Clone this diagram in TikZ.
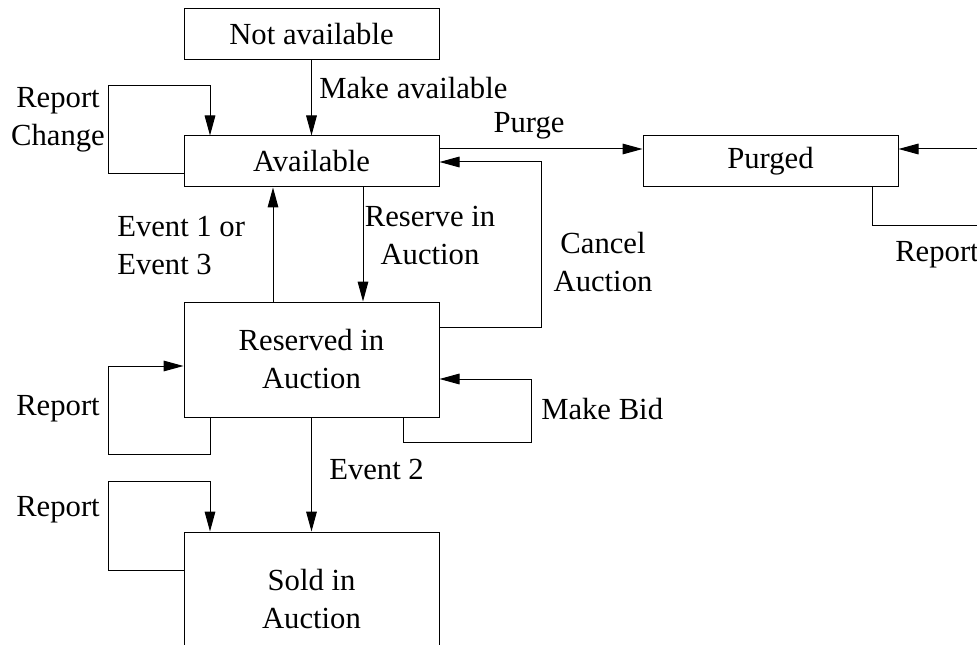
\documentclass[tikz,border=0pt]{standalone}
\usepackage{fontspec}
\setmainfont{Liberation Serif}
\usetikzlibrary{arrows.meta}
\tikzset{
  px/.style={x=0.75pt,y=-0.75pt},
  state/.style={draw, line width=0.75pt, inner sep=0pt, align=center,
    minimum width=191.25pt, font=\fontsize{23}{28.5}\selectfont},
  lbl/.style={inner sep=0pt, align=center, font=\fontsize{23}{28.5}\selectfont},
  arr/.style={line width=0.75pt, -{Triangle[length=15pt,width=8pt]}},
  ln/.style={line width=0.75pt},
}
\begin{document}
\begin{tikzpicture}[px]
\useasboundingbox (0,0) rectangle (977,645);
\clip (0,0) rectangle (977,645);
% states
\node[state, minimum height=38.25pt] (na) at (311.5,34.5) {Not available};
\node[state, minimum height=38.25pt] (av) at (311.5,161.5) {Available};
\node[state, minimum height=38.25pt] (pu) at (770.5,161.5) {Purged};
\node[state, minimum height=86.25pt] (res) at (311.5,359.5) {Reserved in\\Auction};
\node[state, minimum height=100.5pt] (sold) at (311.5,599) {Sold in\\Auction};
% free ends at the right edge
\coordinate (rin) at (977,149);
\coordinate (rout) at (977,226);
% labels
\node[lbl, anchor=west] (lmake) at (319,88) {Make available};
\node[lbl] (lrc) at (58,120) {Report\\Change};
\node[lbl] (lpurge) at (529,126) {Purge};
\node[lbl, anchor=west, align=left] (lev13) at (117,246) {Event 1 or\\Event 3};
\node[lbl] (lres) at (430,235) {Reserve in\\Auction};
\node[lbl] (lcancel) at (603,262) {Cancel\\Auction};
\node[lbl] (lrep1) at (58,409) {Report};
\node[lbl, anchor=west] (lbid) at (541,409) {Make Bid};
\node[lbl, anchor=west] (lev2) at (329,469) {Event 2};
\node[lbl] (lrep2) at (58,510) {Report};
\node[lbl, anchor=west] (lrep3) at (895,255) {Report};
% connectors
\draw[arr] (na) -- (av);
\draw[arr] (av.west |- 0,174) -- (108,174) -- (108,86) -- (210,86) -- (av.north -| 210,0);
\draw[arr] (av.east |- 0,149) -- (pu.west |- 0,149);
\draw[arr] (rin) -- (pu.east |- rin);
\draw[ln] (pu.south -| 872,0) -- (872,226) -- (rout);
\draw[arr] (res.north -| 273,0) -- (av.south -| 273,0);
\draw[arr] (av.south -| 363,0) -- (res.north -| 363,0);
\draw[arr] (res.east |- 0,327) -- (541,327) -- (541,162) -- (av.east |- 0,162);
\draw[arr] (res.south -| 210,0) -- (210,454) -- (108,454) -- (108,366) -- (res.west |- 0,366);
\draw[arr] (res.south -| 403,0) -- (403,442) -- (531,442) -- (531,379) -- (res.east |- 0,379);
\draw[arr] (res) -- (sold);
\draw[arr] (sold.west |- 0,570) -- (108,570) -- (108,481) -- (210,481) -- (sold.north -| 210,0);
\end{tikzpicture}
\end{document}
